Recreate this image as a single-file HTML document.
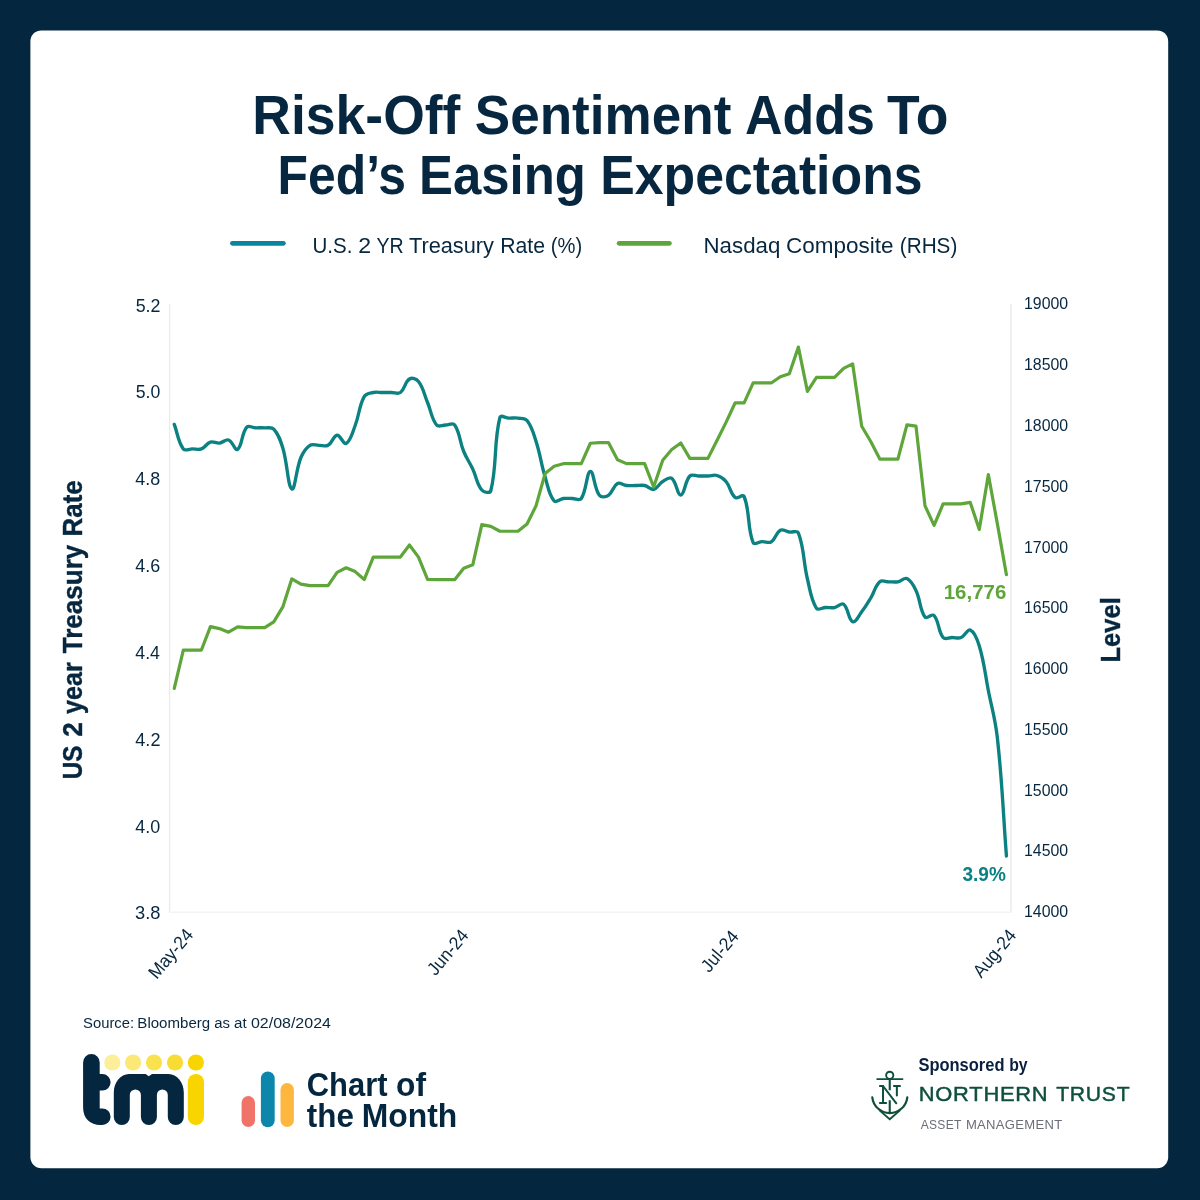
<!DOCTYPE html>
<html lang="en"><head><meta charset="utf-8"><title>Risk-Off Sentiment Adds To Fed’s Easing Expectations</title>
<style>html,body{margin:0;padding:0;background:#04263e}body{width:1200px;height:1200px;overflow:hidden}svg{display:block}text{font-family:"Liberation Sans",sans-serif;white-space:pre}</style></head><body>
<svg width="1200" height="1200" viewBox="0 0 1200 1200">
<rect width="1200" height="1200" fill="#04263e"/>
<rect x="30.4" y="30.4" width="1137.8" height="1137.8" rx="11" fill="#fff"/>
<g id="title"><text y="133.75" font-size="55" font-weight="700" fill="#06273f"><tspan x="252.25" textLength="208.16" lengthAdjust="spacingAndGlyphs">Risk-Off</tspan> <tspan x="474.75" textLength="256.62" lengthAdjust="spacingAndGlyphs">Sentiment</tspan> <tspan x="745" textLength="129.75" lengthAdjust="spacingAndGlyphs">Adds</tspan> <tspan x="887" textLength="61.38" lengthAdjust="spacingAndGlyphs">To</tspan></text><text y="193.75" font-size="55" font-weight="700" fill="#06273f"><tspan x="277.5" textLength="128.36" lengthAdjust="spacingAndGlyphs">Fed’s</tspan> <tspan x="419" textLength="166.84" lengthAdjust="spacingAndGlyphs">Easing</tspan> <tspan x="600.25" textLength="322.33" lengthAdjust="spacingAndGlyphs">Expectations</tspan></text></g>
<g id="legend"><line x1="232.4" y1="243.35" x2="283.4" y2="243.35" stroke="#0a859f" stroke-width="4.7" stroke-linecap="round"/>
<line x1="619.1" y1="243.35" x2="669.4" y2="243.35" stroke="#5ea53a" stroke-width="4.7" stroke-linecap="round"/>
<text y="253.3" font-size="22" font-weight="400" fill="#06273f"><tspan x="312.5" textLength="39.9" lengthAdjust="spacingAndGlyphs">U.S.</tspan> <tspan x="358.15" textLength="12.85" lengthAdjust="spacingAndGlyphs">2</tspan> <tspan x="376.4" textLength="27.16" lengthAdjust="spacingAndGlyphs">YR</tspan> <tspan x="408.9" textLength="85.08" lengthAdjust="spacingAndGlyphs">Treasury</tspan> <tspan x="500.15" textLength="44.83" lengthAdjust="spacingAndGlyphs">Rate</tspan> <tspan x="550.85" textLength="31.37" lengthAdjust="spacingAndGlyphs">(%)</tspan></text><text y="253.3" font-size="22" font-weight="400" fill="#06273f"><tspan x="703.5" textLength="76.84" lengthAdjust="spacingAndGlyphs">Nasdaq</tspan> <tspan x="786" textLength="107.41" lengthAdjust="spacingAndGlyphs">Composite</tspan> <tspan x="899.75" textLength="57.61" lengthAdjust="spacingAndGlyphs">(RHS)</tspan></text></g>
<g id="axes" fill="none">
<path d="M169.6,304.05 V912.8" stroke="#e9ebee" stroke-width="1.3"/>
<path d="M1010.9,304.05 V912.8" stroke="#edeff2" stroke-width="1.9"/>
<path d="M169.6,912.2 H1010.9" stroke="#f3f4f6" stroke-width="1.5"/>
</g>
<g id="yticks-left"><text x="135.65" y="311.5" font-size="19" font-weight="400" fill="#06273f" textLength="24.82" lengthAdjust="spacingAndGlyphs">5.2</text><text x="135.65" y="398.35" font-size="19" font-weight="400" fill="#06273f" textLength="24.57" lengthAdjust="spacingAndGlyphs">5.0</text><text x="135.3" y="485.2" font-size="19" font-weight="400" fill="#06273f" textLength="24.92" lengthAdjust="spacingAndGlyphs">4.8</text><text x="135.3" y="572.05" font-size="19" font-weight="400" fill="#06273f" textLength="24.92" lengthAdjust="spacingAndGlyphs">4.6</text><text x="135.3" y="658.9" font-size="19" font-weight="400" fill="#06273f" textLength="24.67" lengthAdjust="spacingAndGlyphs">4.4</text><text x="135.3" y="745.75" font-size="19" font-weight="400" fill="#06273f" textLength="25.17" lengthAdjust="spacingAndGlyphs">4.2</text><text x="135.3" y="832.6" font-size="19" font-weight="400" fill="#06273f" textLength="24.92" lengthAdjust="spacingAndGlyphs">4.0</text><text x="135.05" y="919.45" font-size="19" font-weight="400" fill="#06273f" textLength="25.42" lengthAdjust="spacingAndGlyphs">3.8</text></g>
<g id="yticks-right"><text x="1024" y="309.32" font-size="16.6" font-weight="400" fill="#06273f" textLength="44.16" lengthAdjust="spacingAndGlyphs">19000</text><text x="1024" y="370.12" font-size="16.6" font-weight="400" fill="#06273f" textLength="44.16" lengthAdjust="spacingAndGlyphs">18500</text><text x="1024" y="430.91" font-size="16.6" font-weight="400" fill="#06273f" textLength="44.16" lengthAdjust="spacingAndGlyphs">18000</text><text x="1024" y="491.71" font-size="16.6" font-weight="400" fill="#06273f" textLength="44.16" lengthAdjust="spacingAndGlyphs">17500</text><text x="1024" y="552.5" font-size="16.6" font-weight="400" fill="#06273f" textLength="44.16" lengthAdjust="spacingAndGlyphs">17000</text><text x="1024" y="613.3" font-size="16.6" font-weight="400" fill="#06273f" textLength="44.16" lengthAdjust="spacingAndGlyphs">16500</text><text x="1024" y="674.09" font-size="16.6" font-weight="400" fill="#06273f" textLength="44.16" lengthAdjust="spacingAndGlyphs">16000</text><text x="1024" y="734.89" font-size="16.6" font-weight="400" fill="#06273f" textLength="44.16" lengthAdjust="spacingAndGlyphs">15500</text><text x="1024" y="795.68" font-size="16.6" font-weight="400" fill="#06273f" textLength="44.16" lengthAdjust="spacingAndGlyphs">15000</text><text x="1024" y="856.48" font-size="16.6" font-weight="400" fill="#06273f" textLength="44.16" lengthAdjust="spacingAndGlyphs">14500</text><text x="1024" y="917.27" font-size="16.6" font-weight="400" fill="#06273f" textLength="44.16" lengthAdjust="spacingAndGlyphs">14000</text></g>
<g id="xticks">
<text transform="translate(194.25,935.25) rotate(-50)" font-size="18.4" fill="#06273f" text-anchor="end" textLength="58.46" lengthAdjust="spacingAndGlyphs">May-24</text>
<text transform="translate(469.5,936) rotate(-50)" font-size="18.4" fill="#06273f" text-anchor="end" textLength="52.92" lengthAdjust="spacingAndGlyphs">Jun-24</text>
<text transform="translate(739.75,937) rotate(-50)" font-size="18.4" fill="#06273f" text-anchor="end" textLength="47.49" lengthAdjust="spacingAndGlyphs">Jul-24</text>
<text transform="translate(1017.25,935.75) rotate(-50)" font-size="18.4" fill="#06273f" text-anchor="end" textLength="56.08" lengthAdjust="spacingAndGlyphs">Aug-24</text>
</g>
<g id="axis-titles"><text transform="translate(82.2,778) rotate(-90)" y="0" font-size="27.5" font-weight="700" fill="#06273f" stroke="#06273f" stroke-width="0.4"><tspan x="-1.25" textLength="33.65" lengthAdjust="spacingAndGlyphs">US</tspan> <tspan x="41.25" textLength="14.5" lengthAdjust="spacingAndGlyphs">2</tspan> <tspan x="64.05" textLength="51.84" lengthAdjust="spacingAndGlyphs">year</tspan> <tspan x="124.7" textLength="108.62" lengthAdjust="spacingAndGlyphs">Treasury</tspan> <tspan x="241.6" textLength="56.06" lengthAdjust="spacingAndGlyphs">Rate</tspan></text><text transform="translate(1120,661) rotate(-90)" x="-1.5" y="0" font-size="27.5" font-weight="700" fill="#06273f" textLength="65.38" lengthAdjust="spacingAndGlyphs" stroke="#06273f" stroke-width="0.4">Level</text></g>
<g id="series" fill="none" stroke-linejoin="round" stroke-linecap="round" stroke-width="3.2">
<path d="M174.27,424.4 C177.89,434.2 177.94,441.62 183.32,448.9 C185.18,451.42 188.74,448.9 192.36,448.9 C195.98,448.9 198.19,450.11 201.41,448.9 C205.43,447.39 206.44,443.39 210.45,442.1 C213.68,441.07 215.97,443.51 219.5,443.1 C223.21,442.67 225.48,438.93 228.54,440 C232.72,441.45 235.03,451.19 237.59,449.4 C242.27,446.11 241.39,433.56 246.63,427.3 C248.62,424.92 252.06,427.7 255.68,427.8 C259.29,427.9 261.13,427.52 264.72,427.8 C268.36,428.08 271.56,426.74 273.77,429.2 C278.8,434.82 280.41,440.06 282.81,448 C287.65,463.98 287.8,486.87 291.86,489 C295.03,490.67 295.96,469.44 300.9,457.5 C303.2,451.96 305.41,448.36 309.95,445.3 C312.65,443.48 315.38,445.3 319,445.3 C322.61,445.3 325.14,446.91 328.04,445.3 C332.38,442.89 333.29,435.63 337.09,435.25 C340.52,434.91 343.4,444.97 346.13,443.5 C350.63,441.07 352.29,432.99 355.18,425.5 C359.52,414.23 358.77,406.54 364.22,396.6 C366.01,393.34 369.48,393.36 373.27,392.5 C376.72,391.72 378.69,392.5 382.31,392.5 C385.93,392.5 387.74,392.5 391.36,392.5 C394.97,392.5 397.81,394.43 400.4,392.5 C405.05,389.03 404.86,381.79 409.45,379 C412.1,377.39 416.39,378.76 418.49,381.5 C423.62,388.16 424.03,394.06 427.54,402.5 C431.26,411.46 431.31,418.44 436.58,425 C438.55,427.44 442.01,425 445.63,425 C449.25,425 452.91,422.41 454.67,425 C460.14,433.01 459.47,441.17 463.72,451.5 C466.71,458.77 469.41,461.87 472.76,469 C476.65,477.27 476.63,483.84 481.81,490 C483.86,492.44 490.06,493.68 490.85,490.5 C497.3,464.68 493.46,443.28 499.9,417.5 C500.69,414.32 505.32,417.98 508.94,418.1 C512.56,418.22 514.43,417.63 517.99,418.1 C521.67,418.59 524.93,417.78 527.03,420.5 C532.17,427.14 533.3,432.81 536.08,441.5 C540.53,455.41 540.87,463 545.12,477 C548.1,486.8 548.87,494.7 554.17,501 C556.11,503.3 559.53,499.01 563.21,498.5 C566.77,498.01 568.64,498.5 572.26,498.5 C575.88,498.5 579.56,501.1 581.3,498.5 C586.8,490.3 586.53,472.18 590.35,471.5 C593.77,470.9 594.06,488.28 599.4,495.3 C601.29,497.8 605.7,497.09 608.44,495.3 C612.94,492.37 613.03,485.92 617.49,483.5 C620.26,482 622.87,485.1 626.53,485.5 C630.11,485.9 631.96,485.5 635.58,485.5 C639.19,485.5 641.16,484.75 644.62,485.5 C648.39,486.31 650.41,490.12 653.67,489.4 C657.64,488.52 658.68,483.95 662.71,481.5 C665.92,479.55 669.33,476.59 671.76,478.4 C676.56,481.99 677.38,495.45 680.8,495 C684.61,494.49 684.79,481.32 689.85,476 C692.02,473.72 695.27,476 698.89,476 C702.51,476 704.32,476.1 707.94,476 C711.56,475.9 713.69,474.5 716.98,475.5 C720.93,476.7 723.34,478.23 726.03,481.5 C730.58,487.03 730.23,493.49 735.07,497.5 C737.47,499.49 742.94,493.57 744.12,496.5 C750.18,511.61 747.1,527.49 753.16,542.6 C754.34,545.53 758.58,541.76 762.21,541.6 C765.82,541.44 768.5,543.54 771.25,541.8 C775.73,538.98 775.85,532.61 780.3,530.2 C783.09,528.69 785.7,531.44 789.34,532 C792.94,532.56 797.21,529.94 798.39,533 C804.45,548.74 803.06,560.79 807.43,579 C810.3,590.91 810.9,599.5 816.48,608.3 C818.13,610.9 821.9,607.64 825.52,607.5 C829.14,607.36 831.06,608.22 834.57,607.6 C838.3,606.94 841.23,602.44 843.61,604.3 C848.47,608.08 848.36,619.92 852.66,621.7 C855.6,622.92 858.46,616.05 861.7,611.8 C865.7,606.57 867.34,603.65 870.75,598 C874.58,591.65 874.93,586.16 879.8,581.8 C882.17,579.68 885.22,581.8 888.84,581.8 C892.46,581.8 894.37,582.42 897.89,581.8 C901.61,581.14 904.1,577.24 906.93,578.6 C911.34,580.72 913.46,585.15 915.98,590.5 C920.69,600.51 919.57,609.47 925.02,617 C926.81,619.47 932.05,613.22 934.07,615.5 C939.29,621.42 937.87,631.12 943.11,637.5 C945.1,639.92 948.54,637.5 952.16,637.5 C955.77,637.5 958.05,638.8 961.2,637.5 C965.29,635.8 967.42,628.67 970.25,630 C974.66,632.07 977.21,639.03 979.29,646 C984.44,663.23 984.83,672.68 988.34,690.5 C992.07,709.48 995.28,718.8 997.38,738 C1002.52,785 1002.81,808.8 1006.43,856" stroke="#0b8181" stroke-width="3.35"/>
<polyline points="174.27,688.39 183.32,650.04 192.36,650.04 201.41,650.04 210.45,626.58 219.5,628.61 228.54,632.23 237.59,626.94 246.63,627.6 255.68,627.6 264.72,627.6 273.77,621.84 282.81,606.89 291.86,578.78 300.9,584.13 309.95,585.64 319,585.64 328.04,585.64 337.09,572.39 346.13,567.8 355.18,571.58 364.22,579.55 373.27,557.08 382.31,557.08 391.36,557.08 400.4,557.08 409.45,545.03 418.49,557.11 427.54,579.42 436.58,579.67 445.63,579.67 454.67,579.67 463.72,568.28 472.76,564.83 481.81,524.6 490.85,526.4 499.9,531.26 508.94,531.26 517.99,531.26 527.03,524.04 536.08,505.67 545.12,473.46 554.17,466.27 563.21,463.68 572.26,463.68 581.3,463.68 590.35,443.24 599.4,442.6 608.44,442.6 617.49,459.7 626.53,463.62 635.58,463.62 644.62,463.62 653.67,487.04 662.71,460.18 671.76,449.54 680.8,443.03 689.85,458.37 698.89,458.37 707.94,458.37 716.98,440.53 726.03,422.35 735.07,402.95 744.12,402.95 753.16,382.95 762.21,382.95 771.25,382.95 780.3,376.76 789.34,373.65 798.39,347.12 807.43,391.39 816.48,377.4 825.52,377.4 834.57,377.4 843.61,368.39 852.66,363.91 861.7,426.22 870.75,441.51 879.8,459.05 888.84,459.05 897.89,459.05 906.93,424.93 915.98,426.17 925.02,505.81 934.07,525.35 943.11,503.93 952.16,503.93 961.2,503.93 970.25,502.43 979.29,529.52 988.34,474.56 997.38,523.84 1006.43,574.67" stroke="#5ea53a"/>
</g>
<g id="annotations"><text x="943.75" y="598.75" font-size="20.4" font-weight="700" fill="#5ea53a" textLength="62.52" lengthAdjust="spacingAndGlyphs">16,776</text><text x="962.5" y="881.1" font-size="20.4" font-weight="700" fill="#0b8181" textLength="43.38" lengthAdjust="spacingAndGlyphs">3.9%</text></g>
<text y="1027.85" font-size="15.2" font-weight="400" fill="#06273f"><tspan x="83" textLength="51.09" lengthAdjust="spacingAndGlyphs">Source:</tspan> <tspan x="137.35" textLength="72.8" lengthAdjust="spacingAndGlyphs">Bloomberg</tspan> <tspan x="214.15" textLength="15.7" lengthAdjust="spacingAndGlyphs">as</tspan> <tspan x="234" textLength="12.57" lengthAdjust="spacingAndGlyphs">at</tspan> <tspan x="250.95" textLength="79.97" lengthAdjust="spacingAndGlyphs">02/08/2024</tspan></text>
<g id="tmi" fill="none" stroke-linecap="round" stroke-linejoin="round">
<path d="M91.4,1062.4 V1107.5 Q91.4,1116.7 100.6,1116.7 H102.3 M91.4,1082.3 H102.3" stroke="#04263e" stroke-width="16.6"/>
<path d="M113.8,1117 A8,8 0 0 0 129.8,1117 V1094.95 A5.55,5.55 0 0 1 140.9,1094.95 V1117 A8,8 0 0 0 156.9,1117 V1094.95 A5.45,5.45 0 0 1 167.8,1094.95 V1117 A8,8 0 0 0 183.8,1117 V1092.5 C183.8,1082.3 177,1074 168.6,1074 H152 L148.8,1076.3 L145.6,1074 H129 C120.6,1074 113.8,1082.3 113.8,1092.5 Z" fill="#04263e" stroke="none"/>
<path d="M195.9,1082.1 V1116.9" stroke="#f8d500" stroke-width="16.2"/>
<circle cx="112.3" cy="1062.5" r="8.1" fill="#fdee9a" stroke="none"/>
<circle cx="133.1" cy="1062.5" r="8.1" fill="#fbe876" stroke="none"/>
<circle cx="154" cy="1062.5" r="8.1" fill="#fae24f" stroke="none"/>
<circle cx="175" cy="1062.5" r="8.1" fill="#f9dc33" stroke="none"/>
<circle cx="195.9" cy="1062.5" r="8.1" fill="#f8d500" stroke="none"/>
</g>
<g id="cotm" fill="none" stroke-linecap="round">
<path d="M248.3,1102.8 V1120.3" stroke="#f0736a" stroke-width="13.4"/>
<path d="M267.8,1078.5 V1120.3" stroke="#0c86ab" stroke-width="13.8"/>
<path d="M287.2,1089.8 V1120.3" stroke="#fdb73f" stroke-width="13.4"/>
</g>
<g id="anchor" fill="none" stroke="#0e4f3c" stroke-width="2" stroke-linecap="butt">
<circle cx="889.74" cy="1075.3" r="3.6" stroke-width="1.9"/>
<path d="M877.2,1079.1 H902.5" stroke-linecap="round" stroke-width="1.9"/>
<path d="M889.74,1079.1 V1090.2 M889.74,1100.2 V1112.5" stroke-width="2.1"/>
<path d="M879.9,1086 H883 M883.03,1086 V1102.9 M879.9,1102.9 H886.2 M883.03,1086 L896.3,1103.3 M893.9,1086 H900 M896.85,1086 V1095.4" stroke-linecap="round"/>
<path d="M872.3,1097.3 A17.6,17.6 0 0 0 907.3,1097.3" stroke-width="2.2" stroke-linecap="round"/>
<path d="M879.24,1110.15 L889.74,1119.2 L900.23,1110.15" stroke-width="1.9"/>
</g>

<g id="cotm-text"><text y="1095.6" font-size="32.6" font-weight="700" fill="#04263e"><tspan x="306.75" textLength="80.88" lengthAdjust="spacingAndGlyphs">Chart</tspan> <tspan x="396.05" textLength="29.95" lengthAdjust="spacingAndGlyphs">of</tspan></text><text y="1126.6" font-size="32.6" font-weight="700" fill="#04263e"><tspan x="306.8" textLength="47.02" lengthAdjust="spacingAndGlyphs">the</tspan> <tspan x="361.75" textLength="95.49" lengthAdjust="spacingAndGlyphs">Month</tspan></text></g>
<g id="sponsor-text"><text y="1071.3" font-size="17.5" font-weight="700" fill="#0a1f40"><tspan x="918.4" textLength="86.16" lengthAdjust="spacingAndGlyphs">Sponsored</tspan> <tspan x="1009.2" textLength="18.49" lengthAdjust="spacingAndGlyphs">by</tspan></text><text y="1101.2" font-size="20.3" font-weight="400" fill="#0e4f3c" letter-spacing="0.7" stroke="#0e4f3c" stroke-width="0.45"><tspan x="918.8" textLength="129.62" lengthAdjust="spacingAndGlyphs">NORTHERN</tspan> <tspan x="1056.15" textLength="74.16" lengthAdjust="spacingAndGlyphs">TRUST</tspan></text><text y="1129.3" font-size="12.7" font-weight="400" fill="#6b6d78" letter-spacing="0.3"><tspan x="920.7" textLength="40.71" lengthAdjust="spacingAndGlyphs">ASSET</tspan> <tspan x="965.9" textLength="96.59" lengthAdjust="spacingAndGlyphs">MANAGEMENT</tspan></text></g>
</svg></body></html>
